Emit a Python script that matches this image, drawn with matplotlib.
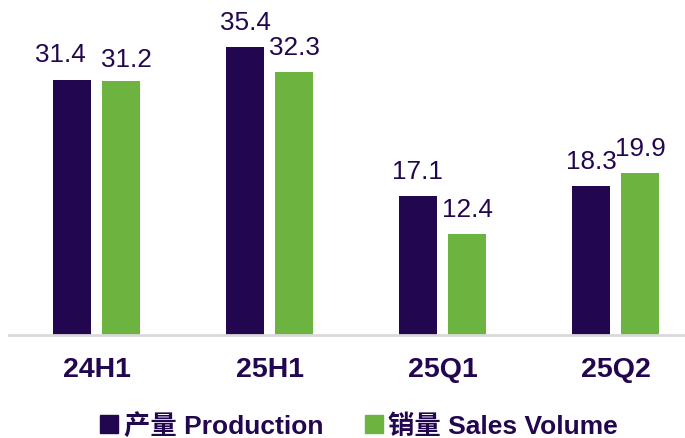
import matplotlib
matplotlib.use("Agg")
import matplotlib.pyplot as plt
from matplotlib.lines import Line2D
import numpy as np

categories = ["24H1", "25H1", "25Q1", "25Q2"]
production = [31.4, 35.4, 17.1, 18.3]
sales = [31.2, 32.3, 12.4, 19.9]
series_names = ["产量 Production", "销量 Sales Volume"]

purple = "#22064F"
green = "#6DB33F"
fonts = ["Liberation Sans", "Noto Sans CJK SC", "DejaVu Sans"]
plt.rcParams["font.family"] = fonts

# label nudges (pixels) where labels were moved to avoid overlap: (series, category) -> (dx, dy)
label_nudge = {(0, 0): (-11.5, 1.0), (1, 0): (5.0, -3.0)}

fig = plt.figure(figsize=(6.85, 4.38), dpi=100)
ax = fig.add_axes([9 / 685, 103.5 / 438, 676 / 685, 334.5 / 438])

x = np.arange(len(categories))
w = 0.222
off = 0.142
b1 = ax.bar(x - off, production, w, color=purple)
b2 = ax.bar(x + off, sales, w, color=green)

px2pt = 72 / 100
for si, (bars, vals) in enumerate(((b1, production), (b2, sales))):
    for ci, (rect, v) in enumerate(zip(bars, vals)):
        dx, dy = label_nudge.get((si, ci), (0.0, 0.0))
        ax.annotate(f"{v:.1f}", (rect.get_x() + rect.get_width() / 2, v),
                    xytext=(dx * px2pt, (17 + dy) * px2pt), textcoords="offset points",
                    ha="center", va="baseline", fontsize=18.8, color=purple)

ax.set_xlim(-0.506, 3.402)
ax.set_ylim(0, 41.2)
ax.set_xticks(x)
ax.set_xticklabels(categories, fontsize=20.5, fontweight="bold", color=purple)
ax.tick_params(axis="x", length=0, pad=16)
ax.set_yticks([])
for s in ["top", "right", "left"]:
    ax.spines[s].set_visible(False)
ax.spines["bottom"].set_color("#D9D9D9")
ax.spines["bottom"].set_linewidth(2)

handles = [Line2D([], [], marker="s", linestyle="none", markersize=12.5, color=c)
           for c in (purple, green)]
leg = fig.legend(handles, series_names, loc="center", bbox_to_anchor=(0.525, 0.028),
                 ncol=2, frameon=False, handlelength=0.6, handletextpad=0.25,
                 columnspacing=1.6, prop={"family": fonts, "weight": "bold", "size": 19})
for t in leg.get_texts():
    t.set_color(purple)

fig.savefig("out.png", dpi=100)
